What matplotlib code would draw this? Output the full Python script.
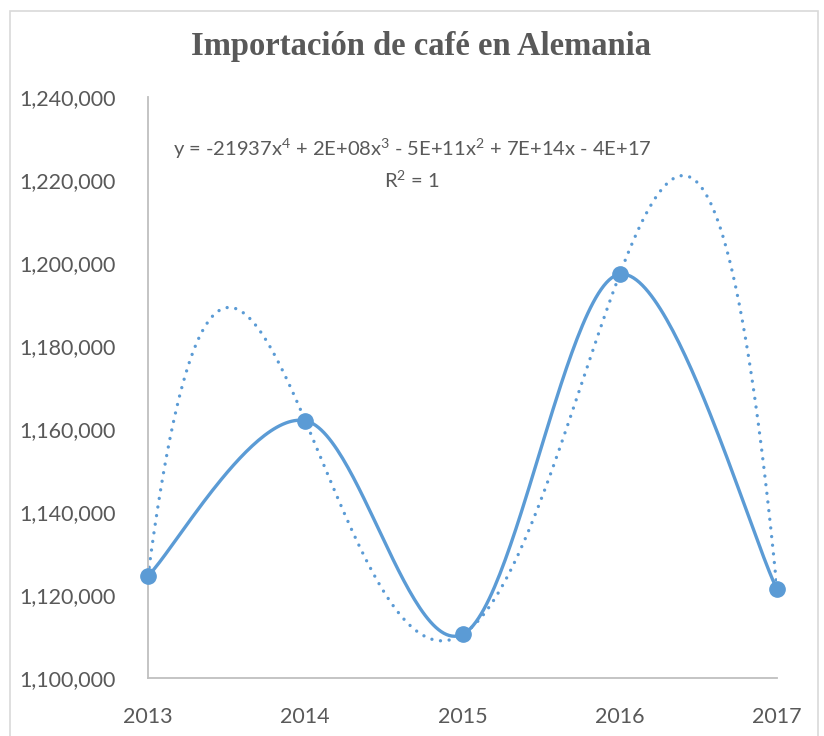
import numpy as np
import matplotlib
matplotlib.use('Agg')
import matplotlib.pyplot as plt
from matplotlib.patches import Rectangle

years = [2013, 2014, 2015, 2016, 2017]
imports = [1124600, 1162000, 1110500, 1197300, 1121400]
y_ticks = [1100000, 1120000, 1140000, 1160000, 1180000, 1200000, 1220000, 1240000]
title = 'Importación de café en Alemania'
eq_text = r'y = -21937x$^{4}$ + 2E+08x$^{3}$ - 5E+11x$^{2}$ + 7E+14x - 4E+17'
r2_text = r'R$^{2}$ = 1'

blue = '#5B9BD5'
gray = '#595959'
sans = ['Lato', 'DejaVu Sans']

plt.rcParams['mathtext.fontset'] = 'custom'
plt.rcParams['mathtext.rm'] = 'Lato'
plt.rcParams['mathtext.it'] = 'Lato'
plt.rcParams['mathtext.default'] = 'regular'


def smooth_line(x, y, n=60):
    # excel-like smoothing: cubic bezier with catmull-rom control points
    x = np.asarray(x, float)
    y = np.asarray(y, float)
    px = np.concatenate([[x[0]], x, [x[-1]]])
    py = np.concatenate([[y[0]], y, [y[-1]]])
    xs, ys = [], []
    t = np.linspace(0, 1, n)
    for i in range(1, len(x)):
        p0 = np.array([px[i], py[i]])
        p3 = np.array([px[i+1], py[i+1]])
        c1 = p0 + (np.array([px[i+1], py[i+1]]) - np.array([px[i-1], py[i-1]])) / 6
        c2 = p3 - (np.array([px[i+2], py[i+2]]) - np.array([px[i], py[i]])) / 6
        pts = ((1-t)**3)[:, None]*p0 + (3*(1-t)**2*t)[:, None]*c1 + (3*(1-t)*t**2)[:, None]*c2 + (t**3)[:, None]*p3
        xs.append(pts[:, 0])
        ys.append(pts[:, 1])
    return np.concatenate(xs), np.concatenate(ys)


fig = plt.figure(figsize=(8.24, 7.36), dpi=100)
ax = fig.add_axes([148/824, 1-678/736, (777-148)/824, (678-97)/736])

# polynomial trendline (order 4)
xc = np.array(years, float) - 2015
coef = np.polyfit(xc, imports, 4)
xf = np.linspace(xc[0], xc[-1], 400)
ax.plot(xf + 2015, np.polyval(coef, xf), color=blue, lw=2.4,
        linestyle=(0, (0.01, 2.6)), dash_capstyle='round', zorder=2)

sx, sy = smooth_line(years, imports)
ax.plot(sx, sy, color=blue, lw=2.4, solid_capstyle='round', zorder=3)
ax.plot(years, imports, 'o', color=blue, ms=11, zorder=4, clip_on=False)

ax.set_xlim(2013, 2017)
ax.set_ylim(1100000, 1240000)
ax.set_xticks(years)
ax.set_yticks(y_ticks)
ax.set_yticklabels([f'{v:,}' for v in y_ticks])
ax.tick_params(length=0, labelsize=15.5, labelcolor=gray)
ax.tick_params(axis='y', pad=23)
ax.tick_params(axis='x', pad=21)
for lab in ax.get_xticklabels() + ax.get_yticklabels():
    lab.set_family(sans)
for s in ['top', 'right']:
    ax.spines[s].set_visible(False)
for s in ['left', 'bottom']:
    ax.spines[s].set_color('#BFBFBF')
    ax.spines[s].set_linewidth(1.3)

fig.text(421/824, 1-47/736, title, ha='center', va='center', fontsize=23.5,
         fontweight='bold', family='Liberation Serif', color=gray)
fig.text(412/824, 1-149/736, eq_text, ha='center', va='center', fontsize=14.5,
         family=sans, color=gray)
fig.text(412/824, 1-180/736, r2_text, ha='center', va='center', fontsize=14.5,
         family=sans, color=gray)

fig.patches.append(Rectangle((10/824, -0.01), 808/824, 1-11/736+0.01,
                             transform=fig.transFigure, fill=False,
                             edgecolor='#D9D9D9', lw=1.2))

fig.savefig('out.png', dpi=100)
